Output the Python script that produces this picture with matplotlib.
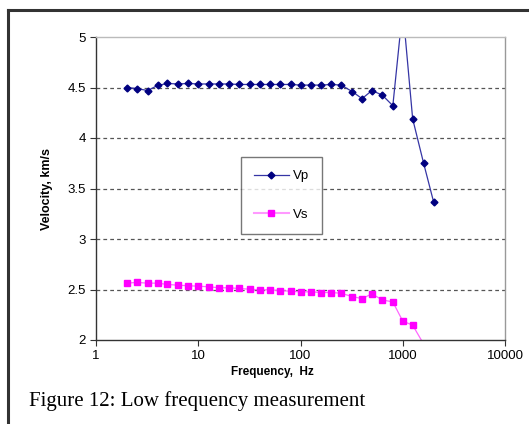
import matplotlib
matplotlib.use("Agg")
import matplotlib.pyplot as plt
from matplotlib.lines import Line2D

# frequencies (Hz), 1/10-decade steps
freq = [2, 2.5, 3.2, 4, 5, 6.3, 8, 10, 12.6, 16, 20, 25, 32, 40, 50, 63, 80,
        100, 126, 160, 200, 250, 320, 400, 500, 630, 800, 1000, 1250, 1600, 2000]

vp = [4.50, 4.49, 4.47, 4.52, 4.54, 4.535, 4.54, 4.535, 4.535, 4.535, 4.535,
      4.53, 4.53, 4.53, 4.53, 4.53, 4.53, 4.524, 4.524, 4.524, 4.53, 4.524,
      4.46, 4.39, 4.47, 4.425, 4.32, 5.28, 4.19, 3.75, 3.37]

vs = [2.563, 2.57, 2.563, 2.563, 2.55, 2.543, 2.537, 2.533, 2.527, 2.517, 2.517,
      2.51, 2.503, 2.497, 2.497, 2.49, 2.483, 2.477, 2.477, 2.47, 2.47, 2.463,
      2.43, 2.41, 2.457, 2.397, 2.377, 2.187, 2.147, 1.96, 1.75]

y_ticks = [2, 2.5, 3, 3.5, 4, 4.5, 5]
x_ticks = [1, 10, 100, 1000, 10000]

plt.rcParams['font.family'] = ['Liberation Sans', 'DejaVu Sans']

fig = plt.figure(figsize=(5.29, 4.24), dpi=100)
ax = fig.add_axes([96 / 529, 1 - 340 / 424, 409 / 529, 303 / 424])

ax.plot(freq, vp, color='#3535a5', lw=0.9, marker='D', markersize=3.5,
        markerfacecolor='#000080', markeredgecolor='#000080', clip_on=True)
ax.plot(freq, vs, color='#ff66ff', lw=0.9, marker='s', markersize=5,
        markerfacecolor='#ff00ff', markeredgecolor='#ff00ff', clip_on=True)

ax.set_xscale('log')
ax.set_xlim(1, 10000)
ax.set_ylim(2, 5)
ax.set_xticks(x_ticks)
ax.set_xticklabels([str(t) for t in x_ticks])
ax.minorticks_off()
ax.set_yticks(y_ticks)
ax.set_yticklabels(['2', '2.5', '3', '3.5', '4', '4.5', '5'])
ax.tick_params(labelsize=9.5, length=4, width=0.8, color='#333333', direction='out')

for y in y_ticks[1:-1]:
    ax.axhline(y, color='#555555', lw=0.9, ls=(0, (3, 2.5)), zorder=0)

ax.spines['left'].set_color('#333333')
ax.spines['bottom'].set_color('#333333')
ax.spines['top'].set_color('#bbbbbb')
ax.spines['right'].set_color('#999999')
for s in ax.spines.values():
    s.set_linewidth(1.0)

ax.set_xlabel('Frequency,  Hz', fontsize=8.5, fontweight='bold', labelpad=3)
ax.xaxis.set_label_coords((272 - 96) / 409, -0.085)
ax.set_ylabel('Velocity, km/s', fontsize=9, fontweight='bold', labelpad=10)

handles = [
    Line2D([], [], color='#3535a5', lw=0.9, marker='D', markersize=3.5,
           markerfacecolor='#000080', markeredgecolor='#000080'),
    Line2D([], [], color='#ff99ff', lw=1.5, marker='s', markersize=5,
           markerfacecolor='#ff00ff', markeredgecolor='#ff00ff'),
]
leg = fig.legend(handles, ['Vp', 'Vs'], loc='upper left',
                 bbox_to_anchor=(241 / 529, 1 - 157 / 424),
                 fontsize=9.5, frameon=True, fancybox=False, labelspacing=2.0,
                 handlelength=2.6, handletextpad=0.3, borderpad=1.0,
                 borderaxespad=0)
leg.get_frame().set_edgecolor('#555555')
leg.get_frame().set_linewidth(1.0)

fig.text(29 / 529, 1 - 406 / 424, 'Figure 12: Low frequency measurement',
         fontsize=15, family='Liberation Serif', ha='left', va='baseline')

# document frame lines
fig.add_artist(Line2D([8 / 529, 8 / 529], [0, 1 - 10 / 424], color='#333333', lw=2.2))
fig.add_artist(Line2D([8 / 529, 1], [1 - 10 / 424, 1 - 10 / 424], color='#333333', lw=2.2))

fig.savefig('out.png', dpi=100)
